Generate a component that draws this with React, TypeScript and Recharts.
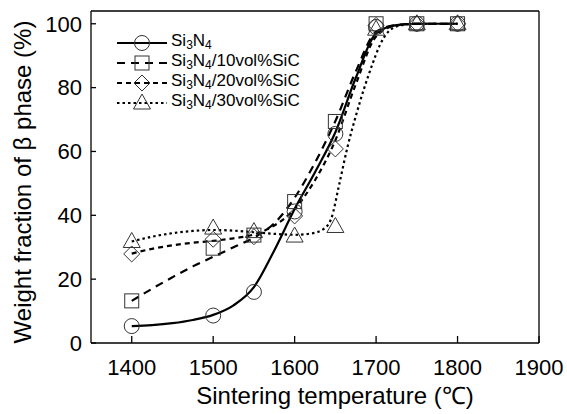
import { ComposedChart, Line, Scatter, XAxis, YAxis, ReferenceLine } from "recharts";

// measured points
const temps = [1400, 1500, 1550, 1600, 1650, 1700, 1750, 1800];
const si3n4 = [5.3, 8.6, 16, 41.2, 65.5, 99, 100, 100];
const sic10 = [13.2, 29.7, 33.8, 44.3, 69.4, 100, 100, 100];
const sic20 = [27.9, 32.5, 33.3, 39.8, 60.8, 99.5, 100, 100];
const sic30 = [31.8, 36, 34.9, 33.5, 36.5, 98.3, 100, 100];

// fitted curves
const fitTemps = [1400, 1425, 1450, 1475, 1500, 1525, 1550, 1575, 1600, 1625, 1650, 1675, 1700, 1725, 1750, 1775, 1800];
const fitSi3n4 = [5.3, 5.6, 6.2, 7.2, 8.8, 11.8, 17.5, 29, 42, 53.5, 66, 83, 97, 99.6, 100, 100, 100];
const fitSic10 = [13.2, 17, 20.6, 24, 27, 30, 33, 37.5, 45.5, 56.5, 69.5, 85, 97.5, 99.6, 100, 100, 100];
const fitSic20 = [28, 29.5, 30.6, 31.4, 32, 32.8, 34, 36.8, 42, 51, 63.5, 81, 96, 99.5, 100, 100, 100];
const fitTemps30 = [1400, 1425, 1450, 1475, 1500, 1525, 1550, 1575, 1600, 1620, 1635, 1645, 1655, 1665, 1675, 1685, 1695, 1705, 1715, 1730, 1750, 1800];
const fitSic30 = [31.8, 33.3, 34.4, 35.1, 35.4, 35.2, 34.7, 34.2, 33.9, 34.3, 35.6, 39, 50, 61.5, 71, 79.5, 87, 93.5, 97.5, 99.5, 100, 100];

const xTicks = [1400, 1500, 1600, 1700, 1800, 1900];
const yTicks = [0, 20, 40, 60, 80, 100];

const toRows = (xs: number[], ys: number[]) => xs.map((t, i) => ({ t, v: ys[i] }));

const MK = "#333";

const circle = (p: any) => <circle cx={p.cx} cy={p.cy} r={7.5} fill="none" stroke={MK} strokeWidth={1} />;
const square = (p: any) => <rect x={p.cx - 7} y={p.cy - 7} width={14} height={14} fill="none" stroke={MK} strokeWidth={1} />;
const diamond = (p: any) => (
  <polygon points={`${p.cx},${p.cy - 8} ${p.cx + 8},${p.cy} ${p.cx},${p.cy + 8} ${p.cx - 8},${p.cy}`} fill="none" stroke={MK} strokeWidth={1} />
);
const triangle = (p: any) => (
  <polygon points={`${p.cx},${p.cy - 9} ${p.cx + 8.5},${p.cy + 6} ${p.cx - 8.5},${p.cy + 6}`} fill="none" stroke={MK} strokeWidth={1} />
);

const series = [
  { name: "10", pts: sic10, fitX: fitTemps, fit: fitSic10, dash: "8 6", shape: square },
  { name: "20", pts: sic20, fitX: fitTemps, fit: fitSic20, dash: "5 4", shape: diamond },
  { name: "30", pts: sic30, fitX: fitTemps30, fit: fitSic30, dash: "2.5 3", shape: triangle },
  { name: "0", pts: si3n4, fitX: fitTemps, fit: fitSi3n4, dash: undefined, shape: circle },
];

const legendRows = [
  { label: "", dash: undefined, shape: "circle" },
  { label: "/10vol%SiC", dash: "8 6", shape: "square" },
  { label: "/20vol%SiC", dash: "5 4", shape: "diamond" },
  { label: "/30vol%SiC", dash: "2.5 3", shape: "triangle" },
];

function LegendIcon({ dash, shape }: { dash?: string; shape: string }) {
  const cx = 25, cy = 10;
  let m;
  if (shape === "circle") m = circle({ cx, cy });
  else if (shape === "square") m = square({ cx, cy });
  else if (shape === "diamond") m = diamond({ cx, cy });
  else m = triangle({ cx, cy });
  return (
    <svg width={50} height={20} style={{ display: "block" }}>
      <line x1={0} y1={cy} x2={50} y2={cy} stroke="#000" strokeWidth={2} strokeDasharray={dash} />
      {m}
    </svg>
  );
}

const YLabel = () => (
  <text x={22} y={182} transform="rotate(-90 22 182)" textAnchor="middle" dominantBaseline="central" fontSize={24} fill="#000">
    Weight fraction of β phase (%)
  </text>
);

const XLabel = () => (
  <text x={335} y={404} textAnchor="middle" fontSize={24} fill="#000">
    Sintering temperature (℃)
  </text>
);

export default function App() {
  return (
    <div style={{ position: "absolute", left: 0, top: 0, width: 567, height: 414, background: "#fff", fontFamily: "'Liberation Sans', Arial, sans-serif" }}>
      <ComposedChart width={567} height={414} margin={{ top: 11, right: 28, bottom: 0, left: 0 }}>
        <XAxis
          dataKey="t"
          type="number"
          domain={[1350, 1900]}
          ticks={xTicks}
          allowDuplicatedCategory={false}
          height={71}
          tickSize={-7}
          tickMargin={23}
          tick={{ fill: "#000", fontSize: 22 }}
          stroke="#000"
          strokeWidth={1.3}
          label={<XLabel />}
        />
        <YAxis
          type="number"
          domain={[0, 104]}
          ticks={yTicks}
          width={91}
          tickSize={-5}
          tickMargin={14}
          tick={{ fill: "#000", fontSize: 22 }}
          stroke="#000"
          strokeWidth={1.3}
          label={<YLabel />}
        />
        <ReferenceLine y={104} stroke="#000" strokeWidth={1.3} />
        <ReferenceLine x={1900} stroke="#000" strokeWidth={1.3} />
        {series.map((s) => (
          <Line
            key={"fit" + s.name}
            data={toRows(s.fitX, s.fit)}
            dataKey="v"
            type="monotone"
            stroke="#000"
            strokeWidth={2.2}
            strokeDasharray={s.dash}
            dot={false}
            activeDot={false}
            isAnimationActive={false}
          />
        ))}
        {series.map((s) => (
          <Scatter key={"pts" + s.name} data={toRows(temps, s.pts)} dataKey="v" shape={s.shape} isAnimationActive={false} />
        ))}
      </ComposedChart>
      <div style={{ position: "absolute", left: 117, top: 33, fontSize: 17, lineHeight: "20px", color: "#000" }}>
        {legendRows.map((r, i) => (
          <div key={i} style={{ display: "flex", alignItems: "center", height: 20 }}>
            <LegendIcon dash={r.dash} shape={r.shape} />
            <span style={{ marginLeft: 4, whiteSpace: "nowrap" }}>
              Si<sub style={{ fontSize: 12, verticalAlign: "-3px" }}>3</sub>N<sub style={{ fontSize: 12, verticalAlign: "-3px" }}>4</sub>
              {r.label}
            </span>
          </div>
        ))}
      </div>
    </div>
  );
}
